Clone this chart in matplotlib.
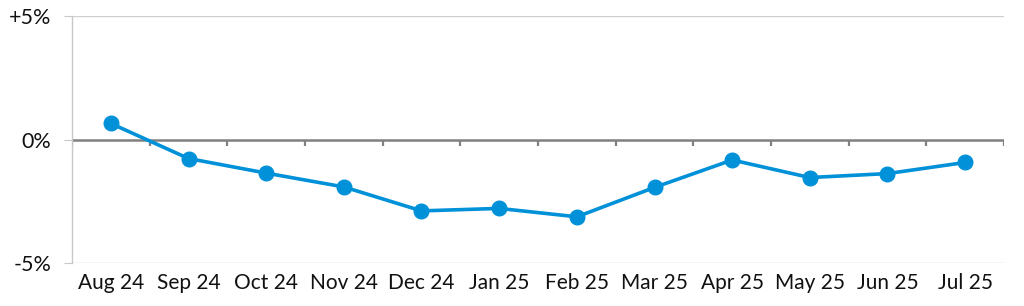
import matplotlib.pyplot as plt

months = ['Aug 24', 'Sep 24', 'Oct 24', 'Nov 24', 'Dec 24', 'Jan 25',
          'Feb 25', 'Mar 25', 'Apr 25', 'May 25', 'Jun 25', 'Jul 25']
change = [0.65, -0.77, -1.36, -1.92, -2.89, -2.79,
          -3.13, -1.94, -0.83, -1.54, -1.38, -0.93]
y_ticks = [-5, 0, 5]
y_labels = ['-5%', '0%', '+5%']

plt.rcParams['font.family'] = ['Lato', 'DejaVu Sans']

fig = plt.figure(figsize=(10.24, 3.06), dpi=100)
ax = fig.add_axes([72 / 1024, 1 - 263 / 306, (1004 - 72) / 1024, (263 - 16) / 306])

x = list(range(len(months)))
ax.plot(x, change, color='#0091D9', lw=2.6, marker='o', markersize=10.5,
        solid_capstyle='round', zorder=3)

ax.set_xlim(-0.5, len(months) - 0.5)
ax.set_ylim(-5, 5)

# light grid at +/-5
for v in (-5, 5):
    ax.axhline(v, color='#d0d0d0', lw=1.0, zorder=1)
# zero axis with category ticks
ax.axhline(0, color='#808080', lw=1.8, zorder=2)
for b in [i - 0.5 for i in range(len(months) + 1)]:
    ax.plot([b, b], [0, -0.25], color='#808080', lw=1.6, zorder=2,
            solid_capstyle='butt')

for s in ['top', 'right', 'bottom']:
    ax.spines[s].set_visible(False)
ax.spines['left'].set_color('#c8c8c8')
ax.spines['left'].set_linewidth(1.0)

ax.set_yticks(y_ticks)
ax.set_yticklabels(y_labels, fontsize=15.5, color='#111111')
ax.tick_params(axis='y', length=6, color='#c8c8c8', pad=9)

ax.set_xticks(x)
ax.set_xticklabels(months, fontsize=15, color='#111111')
ax.tick_params(axis='x', length=0, pad=7)

fig.savefig('out.png', dpi=100)
